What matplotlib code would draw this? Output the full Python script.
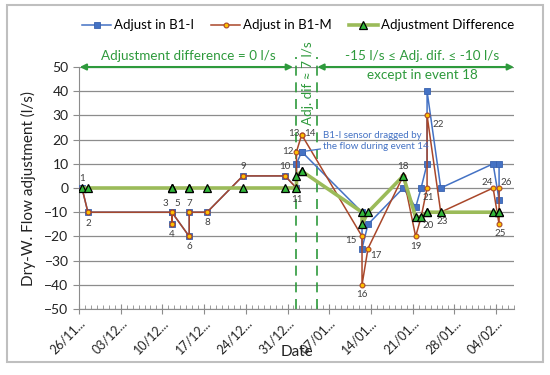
import matplotlib
matplotlib.use('Agg')
import matplotlib.pyplot as plt
import matplotlib.dates as mdates
from matplotlib.patches import Rectangle
from matplotlib.ticker import FuncFormatter
import pandas as pd

plt.rcParams['font.family'] = ['Lato', 'DejaVu Sans']

# events
events = list(range(1, 27))
event_dates = [
    '2016-11-26 12:00', '2016-11-27 12:00', '2016-12-11 14:00', '2016-12-11 14:00',
    '2016-12-11 14:00', '2016-12-14 12:00', '2016-12-14 12:00', '2016-12-17 12:00',
    '2016-12-23 12:00', '2016-12-30 14:00', '2017-01-01 12:00', '2017-01-01 12:00',
    '2017-01-02 09:00', '2017-01-02 09:00', '2017-01-12 12:00', '2017-01-12 12:00',
    '2017-01-13 12:00', '2017-01-19 10:00', '2017-01-21 12:00', '2017-01-22 10:00',
    '2017-01-23 10:00', '2017-01-23 10:00', '2017-01-25 17:00', '2017-02-03 12:00',
    '2017-02-04 12:00', '2017-02-04 12:00',
]
adj_b1i = [0, -10, -10, -15, -10, -20, -10, -10, 5, 5, 0, 10, 15, 15,
           -10, -25, -15, 0, -8, 0, 10, 40, 0, 10, -5, 10]
adj_b1m = [0, -10, -10, -15, -10, -20, -10, -10, 5, 5, 0, 15, 22, 22,
           -20, -40, -25, 5, -20, -12, 0, 30, -10, 0, -15, 0]
adj_diff = [0, 0, 0, 0, 0, 0, 0, 0, 0, 0, 0, 5, 7, 7,
            -10, -15, -10, 5, -12, -12, -10, -10, -10, -10, -10, -10]

week_ticks = pd.date_range('2016-11-26', periods=11, freq='7D')
zone_limits = ['2017-01-01 10:00', '2017-01-05 00:00']

dates = pd.to_datetime(event_dates)

# label offsets (pixels) for the event numbers
label_off = {1: (0, 10), 2: (0, -11), 3: (-6, 9), 4: (0, -10), 5: (5, 9), 6: (0, -10),
             7: (0, 9), 8: (0, -10), 9: (0, 9), 10: (0, 9), 11: (0, -11), 12: (-9, 0),
             13: (-8, 1), 14: (8, 1), 15: (-11, -4), 16: (0, -10), 17: (8, -7), 18: (0, 9),
             19: (0, -10), 20: (7, -8), 21: (1, -9), 22: (11, -9), 23: (1, -9), 24: (-6, 6),
             25: (1, -9), 26: (7, 6)}

BLUE = '#4472C4'
BROWN = '#A9472A'
OLIVE = '#9BBB59'
GREEN = '#2E9A3C'
GRID = '#8C8C8C'

fig = plt.figure(figsize=(5.5, 3.75), dpi=100)
ax = fig.add_axes([0.1436, 0.176, 0.7909, 0.6453])

l1, = ax.plot(dates, adj_b1i, color=BLUE, lw=1.1, marker='s', ms=5,
              mfc=BLUE, mec='#3A62AE', mew=0.6, zorder=3, label='Adjust in B1-I')
l2, = ax.plot(dates, adj_b1m, color=BROWN, lw=1.1, marker='o', ms=3.5,
              mfc='#FFC000', mec=BROWN, mew=0.8, zorder=4, label='Adjust in B1-M')
l3, = ax.plot(dates, adj_diff, color=OLIVE, lw=2.6, marker='^', ms=6,
              mfc='#33B83A', mec='black', mew=0.9, zorder=5, label='Adjustment Difference')

for ev, d, v in zip(events, dates, adj_b1m):
    dx, dy = label_off[ev]
    if ev == 20:
        v = adj_diff[ev - 1]
    ax.annotate(str(ev), (d, v), xytext=(dx, dy), textcoords='offset pixels',
                ha='center', va='center', fontsize=7, color='#404040', zorder=6)

ax.set_ylim(-50, 50)
ax.set_yticks(range(-50, 51, 10))
ax.set_xlim(pd.Timestamp('2016-11-26'), pd.Timestamp('2017-02-07'))
ax.set_xticks(week_ticks)
ax.xaxis.set_minor_locator(mdates.DayLocator())
ax.xaxis.set_major_formatter(FuncFormatter(lambda x, p: mdates.num2date(x).strftime('%d/%m') + '...'))
for lab in ax.get_xticklabels():
    lab.set_rotation(45)
    lab.set_ha('right')
    lab.set_rotation_mode('anchor')

ax.grid(axis='y', color=GRID, lw=0.9)
ax.set_axisbelow(True)
for s in ['top', 'right']:
    ax.spines[s].set_visible(False)
for s in ['left', 'bottom']:
    ax.spines[s].set_color(GRID)
ax.tick_params(axis='y', colors=GRID, labelcolor='#222222', labelsize=10, length=4)
ax.tick_params(axis='x', which='major', direction='inout', length=7, colors=GRID,
               labelcolor='#222222', labelsize=9, pad=2)
ax.tick_params(axis='x', which='minor', direction='in', length=3, colors=GRID)

ax.set_ylabel('Dry-W. Flow adjustment (l/s)', fontsize=11, color='#222222', labelpad=6)
ax.set_xlabel('Date', fontsize=11, color='#222222', labelpad=-8)

# zone markers
for z in zone_limits:
    zt = pd.Timestamp(z)
    ax.plot([zt, zt], [-50, 54], color=GREEN, ls=(0, (6, 4)), lw=1.2, clip_on=False, zorder=2)

arrow = dict(arrowstyle='<|-|>', color=GREEN, lw=1.5, mutation_scale=9, shrinkA=0, shrinkB=0)
ax.annotate('', xy=(pd.Timestamp('2016-11-26 03:00'), 50),
            xytext=(pd.Timestamp('2016-12-31 22:00'), 50), arrowprops=arrow, annotation_clip=False)
ax.annotate('', xy=(pd.Timestamp('2017-01-05 00:00'), 50),
            xytext=(pd.Timestamp('2017-02-07 00:00'), 50), arrowprops=arrow, annotation_clip=False)
ax.text(pd.Timestamp('2016-12-14 08:00'), 54.5, 'Adjustment difference = 0 l/s', color=GREEN,
        fontsize=9.7, ha='center', va='center')
ax.text(pd.Timestamp('2017-01-22 16:00'), 54.5, '-15 l/s ≤ Adj. dif. ≤ -10 l/s', color=GREEN,
        fontsize=9.7, ha='center', va='center')
ax.text(pd.Timestamp('2017-01-22 16:00'), 46.5, 'except in event 18', color=GREEN,
        fontsize=9.7, ha='center', va='center')
ax.text(pd.Timestamp('2017-01-03 10:00'), 43.5, 'Adj. dif ≈ 7 l/s', color=GREEN,
        fontsize=9.7, ha='center', va='center', rotation=90)

# sensor note
ax.annotate('B1-I sensor dragged by\nthe flow during event 14',
            xy=(dates[13], adj_b1i[13]), xytext=(pd.Timestamp('2017-01-06 00:00'), 19.5),
            fontsize=7, color=BLUE, va='center', ha='left', linespacing=1.3, zorder=7,
            arrowprops=dict(arrowstyle='-', color=BLUE, lw=0.9, shrinkA=0, shrinkB=2))

fig.legend(handles=[l1, l2, l3], loc='center', bbox_to_anchor=(0.542, 0.933), ncol=3,
           frameon=False, fontsize=9.5, handlelength=2.2, handletextpad=0.2, columnspacing=1.3)

fig.patches.append(Rectangle((0.013, 0.035), 0.974, 0.952, transform=fig.transFigure,
                             fill=False, edgecolor='#BFBFBF', lw=1.5))

fig.savefig('out.png', dpi=100)
